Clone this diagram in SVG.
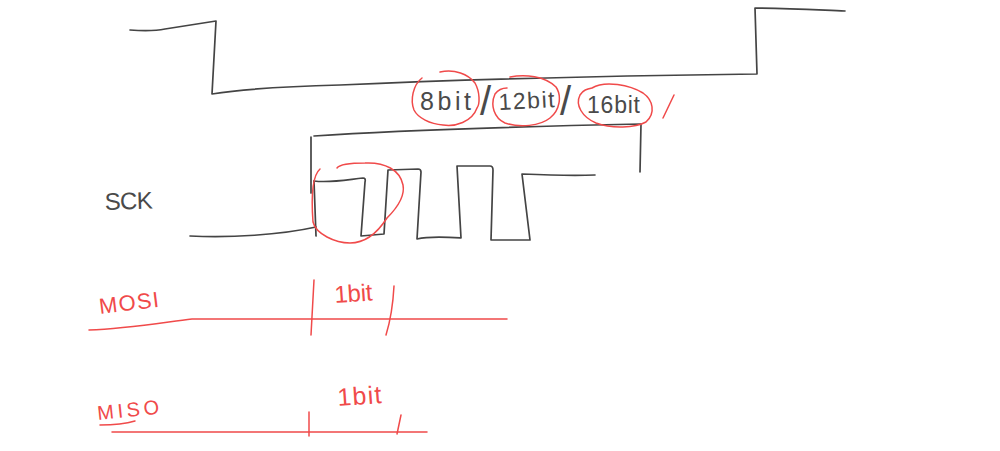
<svg xmlns="http://www.w3.org/2000/svg" width="1000" height="451" viewBox="0 0 1000 451">
<style>
.k{fill:none;stroke:#444;stroke-width:1.7;stroke-linecap:round;stroke-linejoin:round}
.r{fill:none;stroke:#f04a4a;stroke-width:1.5;stroke-linecap:round;stroke-linejoin:round}
.tk{fill:#4a4a4a;font-family:"Liberation Sans",Arial,sans-serif}
.tr{fill:#f04a4a;font-family:"Liberation Sans",Arial,sans-serif}
</style>
<rect width="1000" height="451" fill="#fff"/>
<g id="connectors">
<path class="k" d="M130 30C145 31 155 31 165 29L216 21L212 94C250 88 300 86 340 85C450 80 600 76 757 74L755 8C790 8 820 10 845 11"/>
<path class="k" d="M311 193L311 137"/>
<path class="k" d="M314 136C400 130 500 127 641 124L640 172"/>
<path class="k" d="M190 236C230 238 280 235 316 227"/>
<path class="k" d="M314 181L316 236"/>
<path class="k" d="M314 181C330 183 345 180 363 178Q366 178 365 182L361 236L384 234L388 170L418 169Q421 169 421 172L417 239C430 236 445 237 461 238L457 166L490 166Q493 166 493 170L491 240L530 240L522 174C545 175 570 176 595 175"/>
<path class="r" d="M440 72C455 69 468 74 475 83C480 92 480 104 477 108C472 122 455 127 443 125C430 124 418 118 414 110C410 100 413 85 422 78"/>
<path class="r" d="M510 77C525 74 545 76 556 87C562 96 560 110 550 118C540 126 520 128 505 123C494 118 490 105 495 94C498 90 502 88 507 88"/>
<path class="r" d="M592 88C605 80 630 85 643 93C653 100 656 113 646 122C635 128 612 129 596 123C582 117 575 105 580 95C583 90 587 89 592 88"/>
<path class="r" d="M674 95L663 118"/>
<path class="r" d="M320 169C313 175 311 195 313 222C316 234 335 243 350 243C365 243 378 232 387 218C398 207 405 195 403 185C400 170 385 162 365 163C352 163 340 164 337 168"/>
<path class="r" d="M89 330C125 329 160 323 192 319L507 319"/>
<path class="r" d="M314 280L311 335"/>
<path class="r" d="M394 286C393 305 390 322 386 335"/>
<path class="r" d="M112 432L427 432"/>
<path class="r" d="M309 412L309 436"/>
<path class="r" d="M401 415L397 434"/>
<path class="r" d="M100 425C112 425 125 424 135 421"/>
</g>
<g id="label-sck"><text class="tk" x="105" y="210" font-size="24" textLength="48" lengthAdjust="spacing" transform="rotate(-2 105 210)">SCK</text></g>
<g id="label-8bit"><text class="tk" x="420" y="110" font-size="25" textLength="51" lengthAdjust="spacing">8bit</text></g>
<g id="label-12bit"><text class="tk" x="499" y="110" font-size="23" textLength="56" lengthAdjust="spacing" transform="rotate(-3 499 110)">12bit</text></g>
<g id="label-16bit"><text class="tk" x="587" y="113" font-size="23" textLength="53" lengthAdjust="spacing">16bit</text></g>
<g id="label-slash1"><text class="tk" x="480" y="115" font-size="40">/</text></g>
<g id="label-slash2"><text class="tk" x="560" y="115" font-size="40">/</text></g>
<g id="label-mosi"><text class="tr" x="100" y="314" font-size="22" textLength="60" lengthAdjust="spacing" transform="rotate(-7 100 314)">MOSI</text></g>
<g id="label-miso"><text class="tr" x="98" y="420" font-size="20" textLength="62" lengthAdjust="spacing" transform="rotate(-6 98 420)">MISO</text></g>
<g id="label-1bit-a"><text class="tr" x="335" y="303" font-size="24" textLength="38" lengthAdjust="spacing" transform="rotate(-4 335 303)">1bit</text></g>
<g id="label-1bit-b"><text class="tr" x="338" y="406" font-size="25" textLength="44" lengthAdjust="spacing" transform="rotate(-4 338 406)">1bit</text></g>
</svg>
